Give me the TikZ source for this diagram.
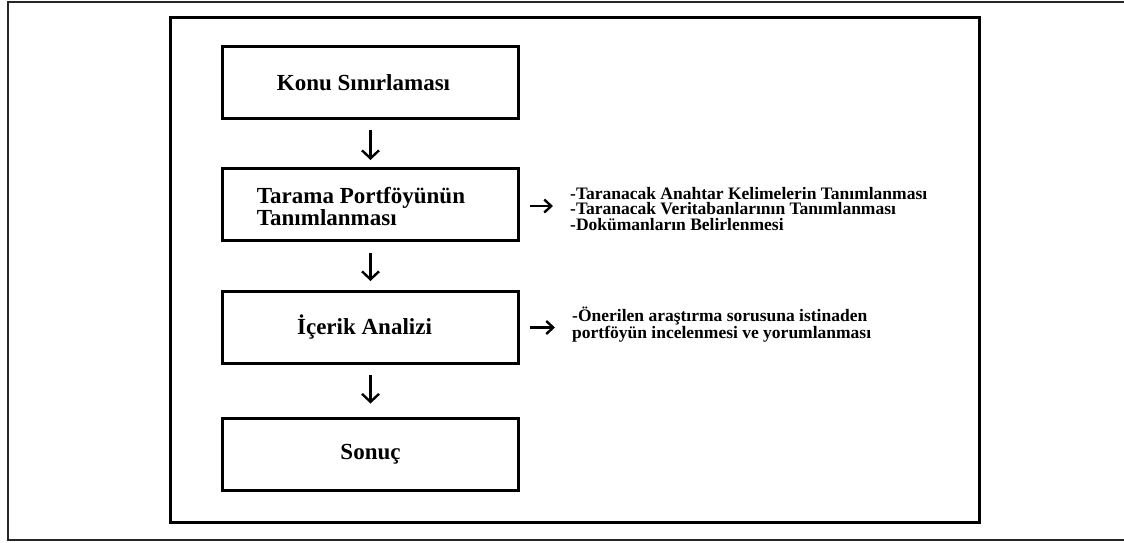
\documentclass[tikz,border=0pt]{standalone}
\usepackage{fontspec}
\setmainfont{Liberation Serif}
\usetikzlibrary{arrows.meta}
\begin{document}
\begin{tikzpicture}[x=1pt,y=-1pt,
  stepbox/.style={draw=black, line width=3pt, minimum width=296pt, minimum height=72pt,
    inner sep=0pt, font=\fontsize{23}{22}\selectfont\bfseries, align=left},
  sidetext/.style={anchor=west, inner sep=0pt, align=left,
    font=\fontsize{17.5}{15.5}\selectfont\bfseries},
  downarrow/.style={line width=2.4pt, -{Straight Barb[length=8pt,width=17pt,line width=2.4pt]}},
  rightarrow/.style={line width=2.4pt, -{Straight Barb[length=7pt,width=13pt,line width=2.4pt]}}
]
\useasboundingbox (0,0) rectangle (1124,542);
% outer page frame
\draw[line width=1.5pt, black!85] (1126,2) -- (8,2) -- (8,540) -- (1126,540);
% inner frame
\draw[line width=3pt] (170,17) rectangle (979,522);

\node[stepbox] (konu) at (370.5,82.5) {Konu Sınırlaması\hspace*{14pt}};
\node[stepbox] (tarama) at (370.5,204.5) {};
\node[inner sep=0pt, align=left, font=\fontsize{23}{22}\selectfont\bfseries] (taramatext) at (361,207) {Tarama Portföyünün\\Tanımlanması};
\node[stepbox] (icerik) at (370.5,327.5) {İçerik Analizi\hspace*{12pt}};
\node[stepbox] (sonuc) at (370.5,454) {Sonuç};

\node[sidetext] (side1) at (570,209) {-Taranacak Anahtar Kelimelerin Tanımlanması\\-Taranacak Veritabanlarının Tanımlanması\\-Dokümanların Belirlenmesi};
\node[sidetext] (side2) at (572,325) {-Önerilen araştırma sorusuna istinaden\\portföyün incelenmesi ve yorumlanması};

\draw[downarrow, shorten <=10pt, shorten >=7pt] (konu) -- (tarama);
\draw[downarrow, shorten <=11pt, shorten >=9pt] (tarama) -- (icerik);
\draw[downarrow, shorten <=10pt, shorten >=13pt] (icerik) -- (sonuc);

\draw[rightarrow, shorten <=10pt, shorten >=17pt] ([yshift=-1.5pt]tarama.east) -- ([yshift=-1.5pt]tarama.east -| side1.west);
\draw[rightarrow, shorten <=10pt, shorten >=17pt] (icerik.east) -- (icerik.east -| side2.west);
\end{tikzpicture}
\end{document}
